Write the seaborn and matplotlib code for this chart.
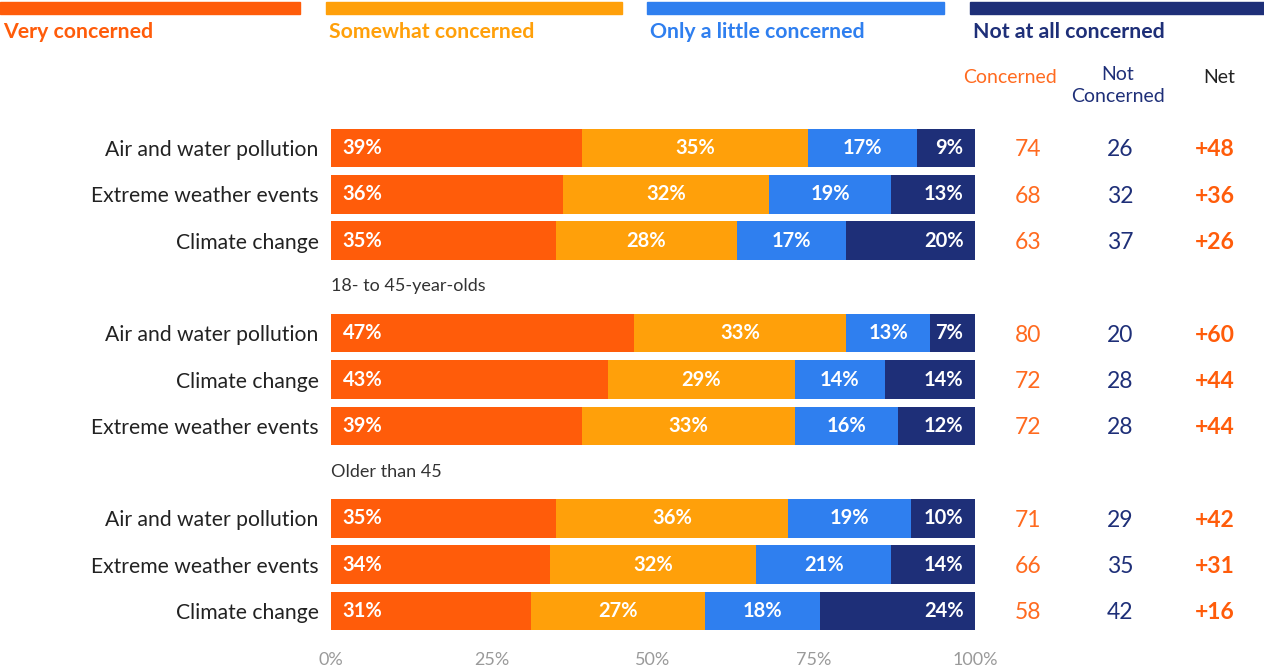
import numpy as np
import pandas as pd
import matplotlib
matplotlib.use("Agg")
import matplotlib.pyplot as plt
import seaborn as sns

# Survey answers (percent of respondents)
items = ["Air and water pollution", "Extreme weather events", "Climate change",
         "Air and water pollution", "Climate change", "Extreme weather events",
         "Air and water pollution", "Extreme weather events", "Climate change"]
groups = ["All", "All", "All",
          "18- to 45-year-olds", "18- to 45-year-olds", "18- to 45-year-olds",
          "Older than 45", "Older than 45", "Older than 45"]
very = [39, 36, 35, 47, 43, 39, 35, 34, 31]
somewhat = [35, 32, 28, 33, 29, 33, 36, 32, 27]
little = [17, 19, 17, 13, 14, 16, 19, 21, 18]
not_at_all = [9, 13, 20, 7, 14, 12, 10, 14, 24]
concerned = [74, 68, 63, 80, 72, 72, 71, 66, 58]
not_concerned = [26, 32, 37, 20, 28, 28, 29, 35, 42]
net = [48, 36, 26, 60, 44, 44, 42, 31, 16]

series_names = ["Very concerned", "Somewhat concerned",
                "Only a little concerned", "Not at all concerned"]
colors = ["#FF5C0A", "#FFA00A", "#2F7FEF", "#1E2F78"]
x_ticks = [0, 25, 50, 75, 100]
x_ticklabels = ["0%", "25%", "50%", "75%", "100%"]

sns.set_theme(style="white")
plt.rcParams["font.family"] = ["Lato", "DejaVu Sans"]

W, H = 1264, 671
fig = plt.figure(figsize=(W / 100, H / 100), dpi=100)
fig.patch.set_facecolor("white")

# Row positions: three groups of three rows with a one-row gap in between
group_order = list(dict.fromkeys(groups))
pos = []
for i, g in enumerate(groups):
    gi = group_order.index(g)
    pos.append(i + gi)
pos = np.array(pos, dtype=float)

df = pd.DataFrame({"pos": pos, "item": items, "very": very, "somewhat": somewhat,
                   "little": little, "not": not_at_all})
df["c1"] = df["very"]
df["c2"] = df["c1"] + df["somewhat"]
df["c3"] = df["c2"] + df["little"]
df["c4"] = df["c3"] + df["not"]

row_px = 46.3
top_px = 148 - row_px / 2
bot_px = 611 + row_px / 2
ax = fig.add_axes([331 / W, (H - bot_px) / H, 644 / W, (bot_px - top_px) / H])

# Stacked bars drawn as overlaid cumulative totals, widest first
for col, color in zip(["c4", "c3", "c2", "c1"], colors[::-1]):
    sns.barplot(data=df, x=col, y="pos", orient="h", native_scale=True,
                color=color, width=0.83, saturation=1, ax=ax, linewidth=0)

ax.set_xlim(0, 100)
ax.set_ylim(pos.max() + 0.5, pos.min() - 0.5)
for s in ax.spines.values():
    s.set_visible(False)
ax.set_xlabel("")
ax.set_ylabel("")
ax.set_yticks(pos)
ax.set_yticklabels(items, fontsize=15.2, color="#222222")
ax.tick_params(axis="y", length=0, pad=9)
ax.set_xticks(x_ticks)
ax.set_xticklabels(x_ticklabels, fontsize=13, color="#9a9a9a")
ax.tick_params(axis="x", length=0, pad=13)
ax.grid(False)

# Value labels inside segments
lab_kw = dict(va="center", color="white", fontsize=14.5, fontweight="bold")
for i, r in df.iterrows():
    y = r["pos"]
    ax.text(1.8, y, f"{r['very']}%", ha="left", **lab_kw)
    ax.text((r["c1"] + r["c2"]) / 2, y, f"{r['somewhat']}%", ha="center", **lab_kw)
    ax.text((r["c2"] + r["c3"]) / 2, y, f"{r['little']}%", ha="center", **lab_kw)
    ax.text(98.2, y, f"{r['not']}%", ha="right", **lab_kw)

# Summary columns on the right
col_x = [108.2, 122.5, 137.3]
for i, y in enumerate(pos):
    ax.text(col_x[0], y + 0.04, f"{concerned[i]}", ha="center", va="center",
            color="#FF6A1F", fontsize=16.5, clip_on=False)
    ax.text(col_x[1], y + 0.04, f"{not_concerned[i]}", ha="center", va="center",
            color="#1E2F78", fontsize=16.5, clip_on=False)
    ax.text(col_x[2], y + 0.04, f"+{net[i]}", ha="center", va="center",
            color="#FF5C0A", fontsize=16.5, fontweight="bold", clip_on=False)

hdr_y = (77 - 148) / row_px
hdr_x = [105.5, 122.2, 137.9]
ax.text(hdr_x[0], hdr_y, "Concerned", ha="center", va="center",
        color="#FF6A1F", fontsize=14, clip_on=False)
ax.text(hdr_x[1], hdr_y - 0.24, "Not\nConcerned", ha="center", va="top",
        color="#1E2F78", fontsize=14, clip_on=False, linespacing=1.35)
ax.text(hdr_x[2], hdr_y, "Net", ha="center", va="center",
        color="#222222", fontsize=14, clip_on=False)

# Group headings
for gi, g in enumerate(group_order[1:], start=1):
    first = pos[[k for k, gg in enumerate(groups) if gg == g][0]]
    ax.text(0, first - 1.01, g, ha="left", va="center", color="#333333",
            fontsize=13, clip_on=False)

# Legend across the top
leg_x = [0, 326, 647, 970]
leg_w = [300, 296, 297, 294]
for lx, lw, name, color in zip(leg_x, leg_w, series_names, colors):
    fig.patches.append(plt.Rectangle((lx / W, (H - 14) / H), lw / W, 12 / H,
                                     transform=fig.transFigure, color=color,
                                     zorder=3))
    fig.text((lx + 3) / W, (H - 32) / H, name, ha="left", va="center",
             color=color, fontsize=15.3, fontweight="bold")

fig.savefig("out.png", dpi=100, facecolor="white")
